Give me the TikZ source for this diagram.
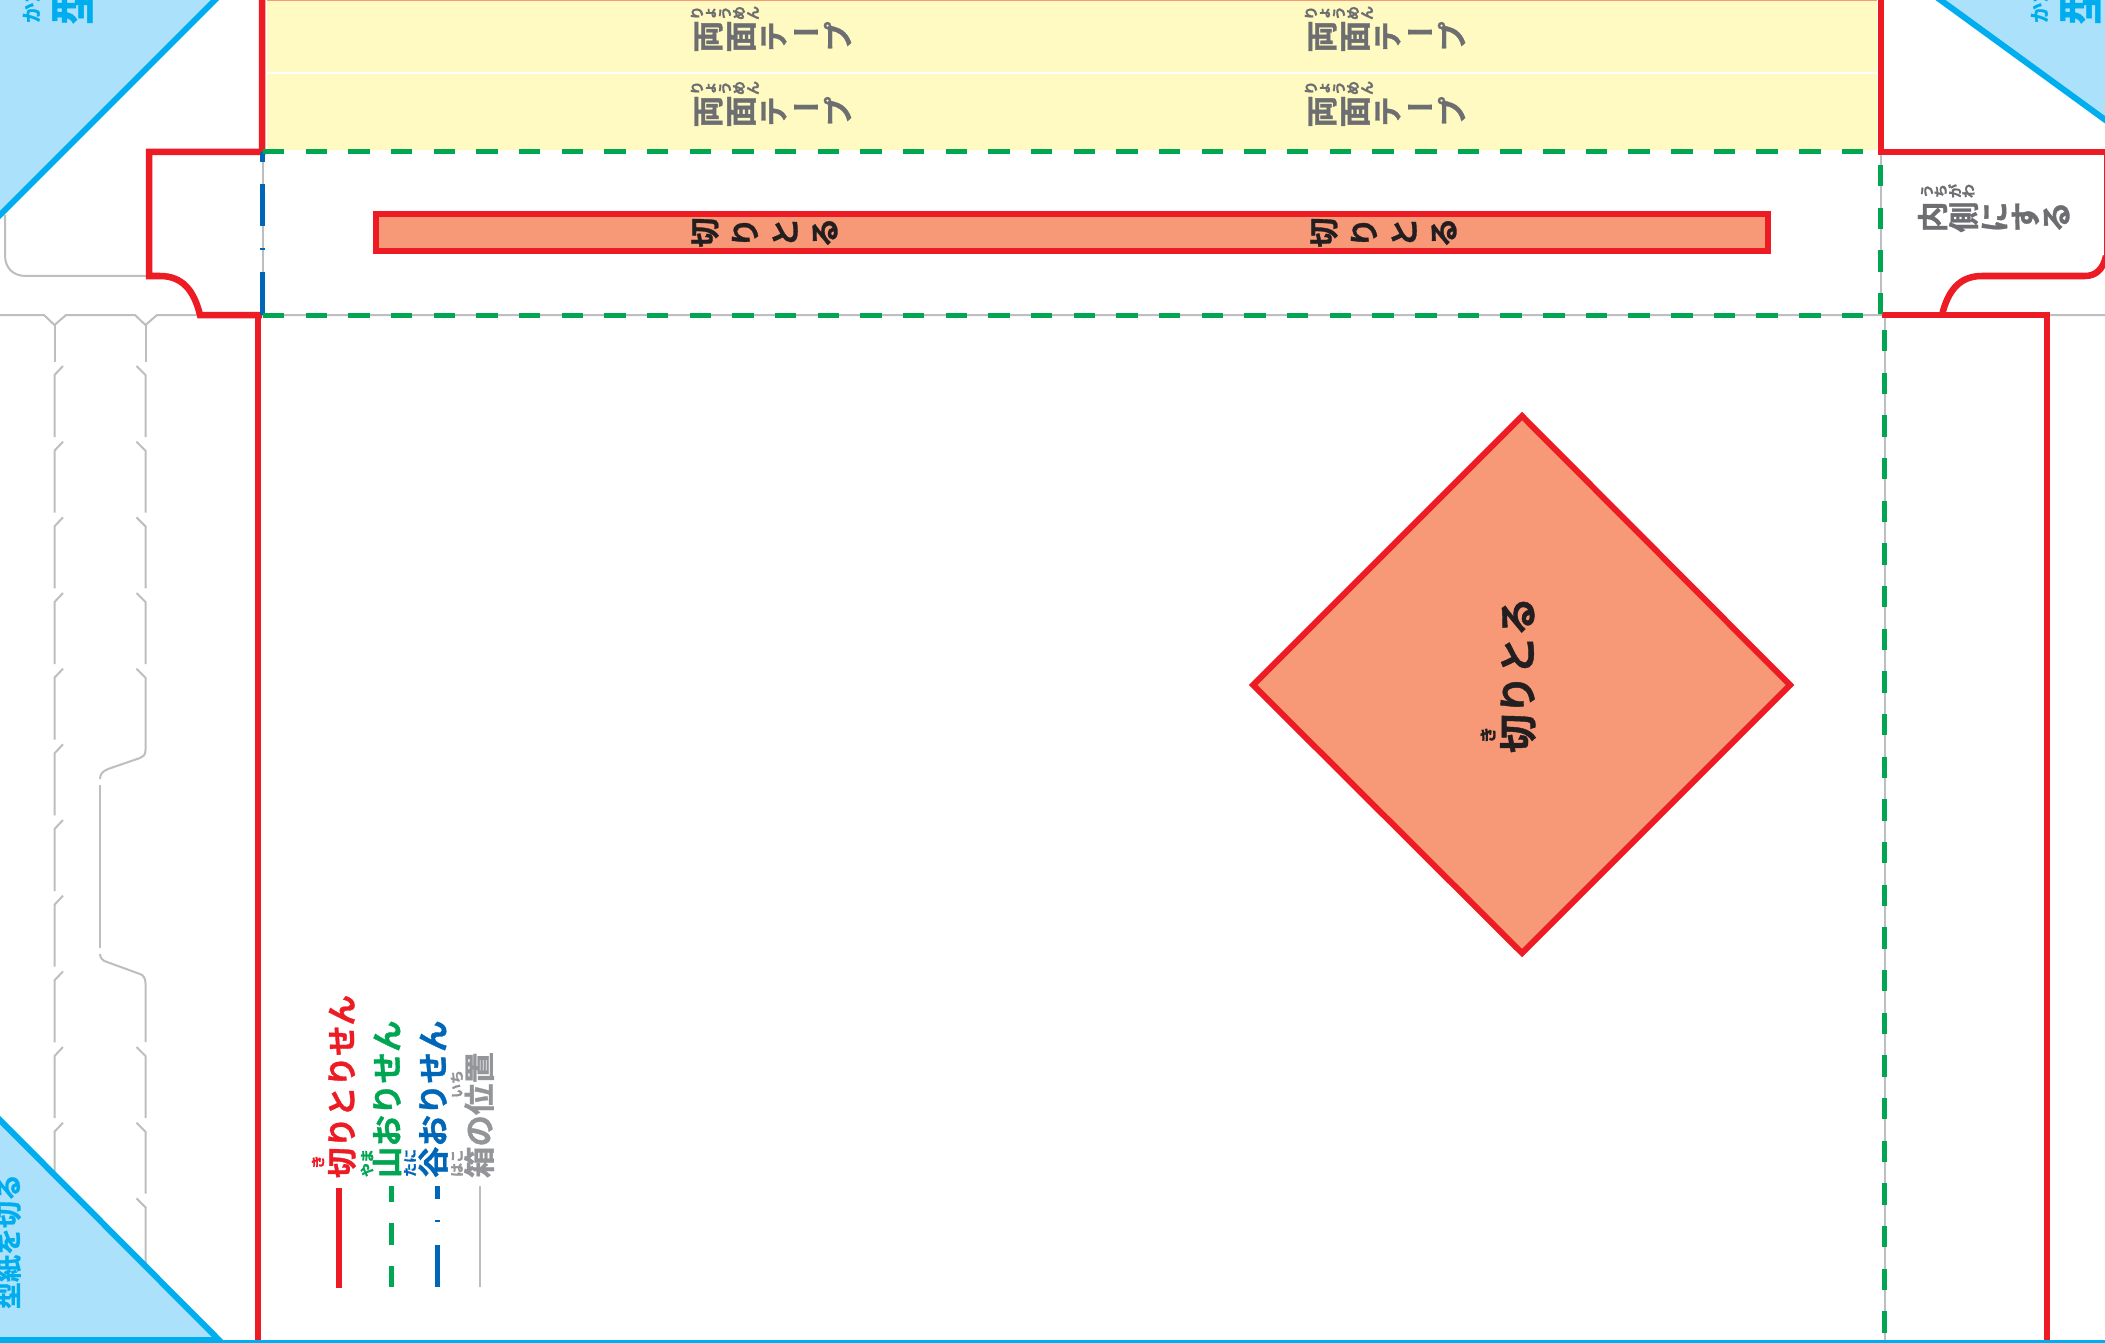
\documentclass[tikz,border=0pt]{standalone}
\usepackage{fontspec}
\setmainfont[FakeBold=1]{Noto Sans CJK JP Bold}
\newfontfamily\vf[RawFeature={vert},FakeBold=1]{Noto Sans CJK JP Bold}
\definecolor{cutred}{HTML}{ED1C24}
\definecolor{mtgreen}{HTML}{00A651}
\definecolor{valblue}{HTML}{0067B8}
\definecolor{boxgrey}{HTML}{BCBEC0}
\definecolor{txtgrey}{HTML}{6D6E71}
\definecolor{leggrey}{HTML}{939598}
\definecolor{cy}{HTML}{00AEEF}
\definecolor{lcy}{HTML}{ABE1FA}
\definecolor{yel}{HTML}{FFF9C2}
\definecolor{sal}{HTML}{F79877}
\definecolor{ink}{HTML}{231F20}
\newcommand{\fs}[1]{\fontsize{#1pt}{#1pt}\selectfont}
% x0, dx, y, size, colour, glyphs, name : glyphs set vertically, then turned left
\newcommand{\vrun}[7]{%
 \foreach \g [count=\i from 0] in {#6}{%
  \pgfmathsetmacro\xx{#1+#2*\i}%
  \node[up,font=\vf\fs{#4},text=#5] (#7\i) at (\xx,#3) {\g};
 }%
}
% x offset, y offset, name : one tape label
\newcommand{\tapelabel}[3]{%
 \vrun{697+#1}{14}{13+#2}{14}{txtgrey}{り,ょ,う,め,ん}{r#3}
 \vrun{708.5+#1}{33}{36.5+#2}{32}{txtgrey}{両,面}{t#3}
 \node[up,font=\vf\fs{30},text=txtgrey] (te#3) at (774+#1,36.5+#2) {テ};
 \node[inner sep=0pt,font=\fs{29},text=txtgrey] (ba#3) at (806+#1,36.5+#2) {ー};
 \node[up,font=\vf\fs{30},text=txtgrey] (pu#3) at (837.5+#1,36.5+#2) {プ};
}
\tikzset{
 cutline/.style={draw=cutred,line width=6.5pt,line join=miter},
 greyline/.style={draw=boxgrey,line width=2pt},
 mountain/.style={draw=mtgreen,line width=5pt,dash pattern=on 21.4pt off 21.27pt},
 valleyseg/.style={draw=valblue,line width=5pt},
 tri/.style={fill=lcy,draw=cy,line width=6pt},
 up/.style={inner sep=0pt,outer sep=0pt,rotate=90},
}
\begin{document}
\begin{tikzpicture}[x=1pt,y=-1pt]
\useasboundingbox (0,0) rectangle (2105,1343);
\clip (0,0) rectangle (2105,1343);
\fill[white] (0,0) rectangle (2105,1343);
% yellow
\fill[yel] (267,0) rectangle (1877,150);
\draw[white,line width=2pt] (267,73.5) -- (1877,73.5);
\draw[sal,line width=2pt] (267,0) -- (1877,0);
% grey box lines
\draw[greyline] (0,315) -- (44,315) -- (54.5,325) -- (66,315) -- (135,315) -- (145.5,325) -- (157,315) -- (2105,315);
\draw[greyline] (54.5,325) -- (54.5,362);
\draw[greyline] (145.5,325) -- (145.5,362);
\foreach \k in {0,...,10}{
 \pgfmathsetmacro\ys{366+75.67*\k}
 \draw[greyline] (63,\ys) -- (54.5,\ys+9) -- (54.5,\ys+71);
}
\foreach \k in {0,1,2,3,9,10,11}{
 \pgfmathsetmacro\ys{366+75.67*\k}
 \draw[greyline] (136.5,\ys) -- (145.5,\ys+9) -- (145.5,\ys+71);
}
\draw[greyline] (136.5,668.7) -- (145.5,677.7) -- (145.5,750) .. controls (145.5,755) and (143,757) .. (140,758) -- (108,769) .. controls (103,771) and (100,774) .. (100,779);
\draw[greyline,line width=1.8pt] (100,785) -- (100,948);
\draw[greyline] (100,954) .. controls (100,958) and (103,961) .. (107,962) -- (140,974) .. controls (143,975) and (145.5,978) .. (145.5,983) -- (145.5,1042);
\draw[greyline] (5,215) -- (5,255) .. controls (5,268) and (13,276) .. (26,276) -- (149,276);
\draw[greyline] (262.5,152) -- (262.5,315);
\draw[greyline] (1880.5,152) -- (1880.5,315);
\draw[greyline] (1884.5,315) -- (1884.5,1343);
% triangles
\draw[tri] (-10,225) -- (218,-3) -- (-10,-3) -- cycle;
\draw[tri] (1935,-4) -- (2115,127) -- (2115,-4) -- cycle;
\draw[tri] (-10,1110) -- (219,1340) -- (-10,1340) -- cycle;
% triangle labels
\node[up,anchor=west,font=\fs{46},text=cy] (kataL) at (73,25) {型紙を切る};
\node[up,anchor=west,font=\fs{20},text=cy] (kataLr) at (31,23) {かたがみ};
\node[up,anchor=west,font=\fs{46},text=cy] (kataR) at (2081,25) {型紙を切る};
\node[up,anchor=west,font=\fs{20},text=cy] (kataRr) at (2039,23) {かたがみ};
\node[up,anchor=west,font=\fs{27},text=cy] (kataB) at (8.5,1309) {型紙を切る};
% red outlines
\draw[cutline] (262,-5) -- (262,152) -- (149,152) -- (149,276) -- (160,276) .. controls (182,276) and (194,290) .. (200,315) -- (262,315);
\draw[cutline] (258,315) -- (258,1340);
\draw[cutline] (1881,-5) -- (1881,152) -- (2110,152);
\draw[cutline] (1882,315) -- (2047,315) -- (2047,1340);
\draw[draw=cutred,line width=1.5pt] (2104.3,152) -- (2104.3,258);
\draw[cutline] (2106,256) .. controls (2103,270) and (2095,276) .. (2085,276) -- (1982,276) .. controls (1960,276) and (1948,290) .. (1942,315);
% valley on left fold
\draw[valleyseg] (262.5,152) -- (262.5,162);
\draw[valleyseg] (262.5,184) -- (262.5,226);
\draw[valleyseg] (262.5,248.5) -- (262.5,250.5);
\draw[valleyseg] (262.5,272) -- (262.5,315);
% mountain folds
\draw[mountain] (263,152) -- (1880,152);
\draw[mountain] (263,315) -- (1880,315);
\draw[mountain] (1880.5,165) -- (1880.5,315);
\draw[mountain] (1884.5,330) -- (1884.5,1343);
\fill[cy] (0,1339.5) rectangle (2105,1343);
% cut-outs
\draw[cutline,fill=sal] (376,214) rectangle (1768,251);
\draw[cutline,line width=6pt,fill=sal] (1522,416) -- (1790,685) -- (1522,953) -- (1253,685) -- cycle;
% tape labels
\tapelabel{0}{0}{A}
\tapelabel{0}{75}{B}
\tapelabel{614}{0}{C}
\tapelabel{614}{75}{D}
\vrun{705}{40}{232.5}{30}{ink}{切,り,と,る}{stA}
\vrun{1324}{40}{232.5}{30}{ink}{切,り,と,る}{stB}
% inside flap label
\vrun{1927}{13.8}{191}{14}{txtgrey}{う,ち,が,わ}{uchR}
\vrun{1932.5}{31}{217}{31}{txtgrey}{内,側,に,す,る}{uch}
% diamond label
\node[up,anchor=west,font=\fs{39},text=ink] (dia) at (1518,753) {切りとる};
\node[up,font=\fs{17},text=ink] (diar) at (1488,735) {き};
% legend
\draw[cutline] (339,1188) -- (339,1288);
\draw[valleyseg,draw=mtgreen] (391,1186) -- (391,1202);
\draw[valleyseg,draw=mtgreen] (391,1223) -- (391,1245);
\draw[valleyseg,draw=mtgreen] (391,1266) -- (391,1287);
\draw[valleyseg] (437,1186) -- (437,1199);
\draw[valleyseg] (437,1220) -- (437,1222);
\draw[valleyseg] (437,1245) -- (437,1287);
\draw[greyline] (480,1186) -- (480,1287);
\node[up,anchor=west,font=\fs{30.5},text=cutred] (l1) at (342,1178) {切りとりせん};
\node[up,font=\fs{14},text=cutred] (l1r) at (318,1162) {き};
\node[up,anchor=west,font=\fs{31.5},text=mtgreen] (l2) at (387,1178) {山おりせん};
\node[up,anchor=west,font=\fs{14},text=mtgreen] (l2r) at (367,1177) {やま};
\node[up,anchor=west,font=\fs{31.5},text=valblue] (l3) at (433,1178) {谷おりせん};
\node[up,anchor=west,font=\fs{14},text=valblue] (l3r) at (410,1177) {たに};
\node[up,anchor=west,font=\fs{31.5},text=leggrey] (l4) at (479,1178) {箱の位置};
\node[up,anchor=west,font=\fs{14},text=leggrey] (l4r) at (457,1177) {はこ};
\node[up,anchor=west,font=\fs{14},text=leggrey] (l4s) at (457,1098) {いち};
\end{tikzpicture}
\end{document}
